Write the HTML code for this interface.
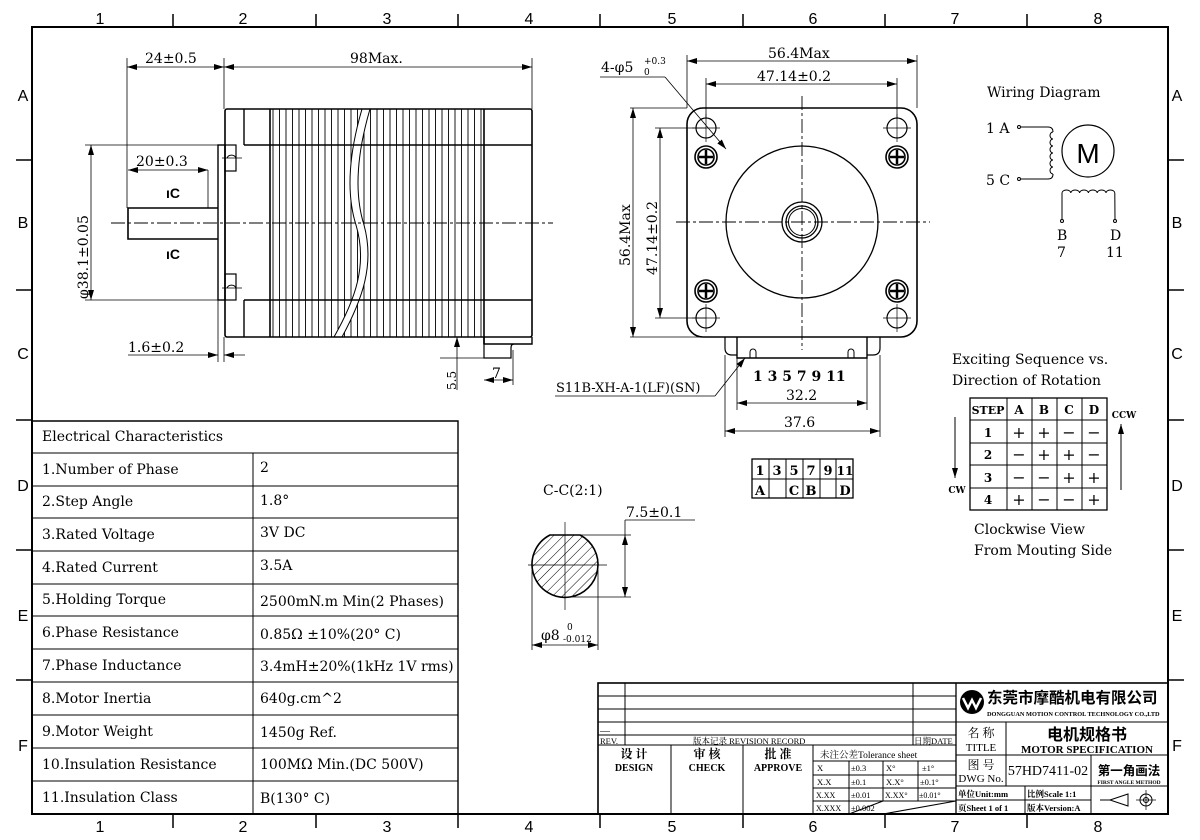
<!DOCTYPE html>
<html><head><meta charset="utf-8"><style>
html,body{margin:0;padding:0;background:#fff}
svg{display:block}
text{font-family:"DejaVu Serif","Noto Serif CJK SC",serif;fill:#000}
.s{font-family:"Liberation Sans",sans-serif}
.b{font-weight:bold}
.tb text{font-family:"Liberation Serif","Noto Serif CJK SC",serif}
</style></head><body>
<svg width="1200" height="840" viewBox="0 0 1200 840" xmlns="http://www.w3.org/2000/svg">
<defs>
<pattern id="stk" x="270" y="0" width="6.5" height="10" patternUnits="userSpaceOnUse"><line x1="3" y1="0" x2="3" y2="10" stroke="#000" stroke-width="0.9"/></pattern>
<pattern id="hat" width="7" height="7" patternUnits="userSpaceOnUse" patternTransform="rotate(45)"><line x1="0" y1="0" x2="0" y2="7" stroke="#000" stroke-width="1"/></pattern>
<marker id="ar" viewBox="0 0 10 6" refX="10" refY="3" markerWidth="10" markerHeight="6" orient="auto-start-reverse" markerUnits="userSpaceOnUse"><path d="M0,0 L10,3 L0,6z" fill="#000"/></marker>
</defs>
<rect width="1200" height="840" fill="#fff"/>
<rect x="32" y="27" width="1136" height="787" fill="none" stroke="#000" stroke-width="2"/>
<g stroke="#000" stroke-width="1.5">
<line x1="173" y1="14" x2="173" y2="27"/><line x1="316" y1="14" x2="316" y2="27"/><line x1="458" y1="14" x2="458" y2="27"/><line x1="600" y1="14" x2="600" y2="27"/><line x1="743" y1="14" x2="743" y2="27"/><line x1="885" y1="14" x2="885" y2="27"/><line x1="1027" y1="14" x2="1027" y2="27"/>
<line x1="173" y1="814" x2="173" y2="828"/><line x1="316" y1="814" x2="316" y2="828"/><line x1="458" y1="814" x2="458" y2="828"/><line x1="600" y1="814" x2="600" y2="828"/><line x1="743" y1="814" x2="743" y2="828"/><line x1="885" y1="814" x2="885" y2="828"/><line x1="1027" y1="814" x2="1027" y2="828"/>
<line x1="16" y1="160" x2="32" y2="160"/><line x1="16" y1="290" x2="32" y2="290"/><line x1="16" y1="420" x2="32" y2="420"/><line x1="16" y1="550" x2="32" y2="550"/><line x1="16" y1="680" x2="32" y2="680"/>
<line x1="1168" y1="160" x2="1184" y2="160"/><line x1="1168" y1="290" x2="1184" y2="290"/><line x1="1168" y1="420" x2="1184" y2="420"/><line x1="1168" y1="550" x2="1184" y2="550"/><line x1="1168" y1="680" x2="1184" y2="680"/>
</g>
<g font-size="16" text-anchor="middle">
<text class="s" x="100" y="24">1</text><text class="s" x="243" y="24">2</text><text class="s" x="387" y="24">3</text><text class="s" x="529" y="24">4</text><text class="s" x="672" y="24">5</text><text class="s" x="813" y="24">6</text><text class="s" x="955" y="24">7</text><text class="s" x="1098" y="24">8</text>
<text class="s" x="100" y="832">1</text><text class="s" x="243" y="832">2</text><text class="s" x="387" y="832">3</text><text class="s" x="529" y="832">4</text><text class="s" x="672" y="832">5</text><text class="s" x="813" y="832">6</text><text class="s" x="955" y="832">7</text><text class="s" x="1098" y="832">8</text>
<text class="s" x="23" y="101">A</text><text class="s" x="23" y="228">B</text><text class="s" x="23" y="359">C</text><text class="s" x="23" y="491">D</text><text class="s" x="23" y="621">E</text><text class="s" x="23" y="751">F</text>
<text class="s" x="1177" y="101">A</text><text class="s" x="1177" y="228">B</text><text class="s" x="1177" y="359">C</text><text class="s" x="1177" y="491">D</text><text class="s" x="1177" y="621">E</text><text class="s" x="1177" y="751">F</text>
</g>

<!-- SIDE VIEW -->
<g stroke="#000" fill="none">
<rect x="270" y="109" width="214" height="228" fill="url(#stk)" stroke="none"/>
<path d="M362,109 C350,150 345,190 356,225 C368,265 355,300 334,337 L342,337 C362,300 375,265 364,225 C353,190 358,150 370,109 Z" fill="#fff" stroke="#000" stroke-width="1"/>
<rect x="225" y="109" width="307" height="228" stroke-width="1.6" rx="2"/>
<line x1="244" y1="145" x2="532" y2="145" stroke-width="1.6"/>
<line x1="244" y1="300" x2="532" y2="300" stroke-width="1.6"/>
<line x1="244" y1="109" x2="244" y2="145" stroke-width="1.4"/>
<line x1="244" y1="300" x2="244" y2="337" stroke-width="1.4"/>
<line x1="270" y1="109" x2="270" y2="337" stroke-width="1.6"/>
<line x1="484" y1="109" x2="484" y2="344" stroke-width="1.6"/>
<path d="M484,337 L484,344 L532,344 L532,337" stroke-width="1.4"/>
<path d="M484,344 L484,358 L511,358 L511,348 Q511,344 514,344" stroke-width="1.2"/>
<rect x="218" y="145" width="7" height="155" stroke-width="1.4"/>
<rect x="225" y="145" width="11" height="26" stroke-width="1.2"/>
<rect x="225" y="274" width="11" height="26" stroke-width="1.2"/>
<path d="M227,158 a5,5 0 0 1 9,0" stroke-width="1"/><path d="M227,288 a5,5 0 0 1 9,0" stroke-width="1"/>
<line x1="222" y1="158" x2="242" y2="158" stroke-width="0.8"/><line x1="222" y1="288" x2="242" y2="288" stroke-width="0.8"/>
<path d="M218,208 L128,208 L128,239 L218,239" stroke-width="1.6"/>
<line x1="208" y1="170" x2="208" y2="208" stroke-width="0.8"/>
<line x1="111" y1="223" x2="553" y2="223" stroke-width="0.9" stroke-dasharray="14,3,3,3"/>
<line x1="127" y1="58" x2="127" y2="208" stroke-width="0.8"/>
<line x1="224" y1="58" x2="224" y2="109" stroke-width="0.8"/>
<line x1="532" y1="58" x2="532" y2="109" stroke-width="0.8"/>
<line x1="127" y1="67" x2="224" y2="67" stroke-width="0.8" marker-start="url(#ar)" marker-end="url(#ar)"/>
<line x1="224" y1="67" x2="532" y2="67" stroke-width="0.8" marker-start="url(#ar)" marker-end="url(#ar)"/>
<line x1="128" y1="170" x2="208" y2="170" stroke-width="0.8" marker-start="url(#ar)" marker-end="url(#ar)"/>
<line x1="85" y1="145" x2="218" y2="145" stroke-width="0.8"/>
<line x1="85" y1="300" x2="218" y2="300" stroke-width="0.8"/>
<line x1="91" y1="145" x2="91" y2="300" stroke-width="0.8" marker-start="url(#ar)" marker-end="url(#ar)"/>
<line x1="218" y1="300" x2="218" y2="362" stroke-width="0.8"/><line x1="224" y1="337" x2="224" y2="362" stroke-width="0.8"/>
<line x1="128" y1="355" x2="218" y2="355" stroke-width="0.8" marker-end="url(#ar)"/>
<line x1="245" y1="355" x2="224" y2="355" stroke-width="0.8" marker-end="url(#ar)"/>
<line x1="457" y1="337" x2="457" y2="390" stroke-width="0.8" marker-start="url(#ar)"/>
<line x1="440" y1="358" x2="484" y2="358" stroke-width="0.8"/>
<line x1="513" y1="350" x2="513" y2="385" stroke-width="0.8"/>
<line x1="484" y1="380" x2="513" y2="380" stroke-width="0.8" marker-start="url(#ar)" marker-end="url(#ar)"/>
</g>
<g font-size="14">
<text x="145" y="63">24±0.5</text>
<text x="350" y="63">98Max.</text>
<text x="136" y="166">20±0.3</text>
<text x="128" y="352">1.6±0.2</text>
<text x="166" y="198" class="b s" font-size="14">ıC</text>
<text x="166" y="259" class="b s" font-size="14">ıC</text>
<text transform="translate(88,299) rotate(-90)">φ38.1±0.05</text>
<text transform="translate(456,390) rotate(-90)" font-size="12">5.5</text>
<text x="492" y="378">7</text>
</g>

<!-- FRONT VIEW -->
<g stroke="#000" fill="none">
<rect x="687" y="108" width="230" height="229" rx="16" stroke-width="1.6"/>
<circle cx="802" cy="222" r="76" stroke-width="1.3"/>
<circle cx="802" cy="222" r="20" stroke-width="1.3"/>
<circle cx="802" cy="222" r="16" stroke-width="1.3"/>
<circle cx="802" cy="222" r="13.5" stroke-width="1"/>
<line x1="676" y1="222" x2="930" y2="222" stroke-width="0.9" stroke-dasharray="14,3,3,3"/>
<line x1="802" y1="96" x2="802" y2="350" stroke-width="0.9" stroke-dasharray="14,3,3,3"/>
<g stroke-width="1.2">
<circle cx="706" cy="128" r="10"/><circle cx="897" cy="128" r="10"/><circle cx="706" cy="318" r="10"/><circle cx="897" cy="318" r="10"/>
</g>
<g stroke-width="0.7">
<line x1="692" y1="128" x2="720" y2="128"/><line x1="706" y1="114" x2="706" y2="142"/>
<line x1="883" y1="128" x2="911" y2="128"/><line x1="897" y1="114" x2="897" y2="142"/>
<line x1="692" y1="318" x2="720" y2="318"/><line x1="706" y1="304" x2="706" y2="332"/>
<line x1="883" y1="318" x2="911" y2="318"/><line x1="897" y1="304" x2="897" y2="332"/>
</g>
<g stroke-width="1.6">
<circle cx="706" cy="157" r="11"/><circle cx="897" cy="157" r="11"/><circle cx="706" cy="291" r="11"/><circle cx="897" cy="291" r="11"/>
<circle cx="706" cy="157" r="8"/><circle cx="897" cy="157" r="8"/><circle cx="706" cy="291" r="8"/><circle cx="897" cy="291" r="8"/>
</g>
<g stroke-width="2.5">
<line x1="699" y1="157" x2="713" y2="157"/><line x1="706" y1="150" x2="706" y2="164"/>
<line x1="890" y1="157" x2="904" y2="157"/><line x1="897" y1="150" x2="897" y2="164"/>
<line x1="699" y1="291" x2="713" y2="291"/><line x1="706" y1="284" x2="706" y2="298"/>
<line x1="890" y1="291" x2="904" y2="291"/><line x1="897" y1="284" x2="897" y2="298"/>
</g>
<path d="M725,337 L725,348 Q725,355 732,355 L737,355" stroke-width="1.2"/>
<path d="M880,337 L880,348 Q880,355 873,355 L867,355" stroke-width="1.2"/>
<path d="M737,337 L737,358 L867,358 L867,337" stroke-width="1.4"/>
<path d="M750,358 L750,352 a3,3 0 0 1 6,0 L756,358" stroke-width="1"/>
<path d="M848,358 L848,352 a3,3 0 0 1 6,0 L854,358" stroke-width="1"/>
<line x1="687" y1="55" x2="687" y2="108" stroke-width="0.8"/><line x1="917" y1="55" x2="917" y2="108" stroke-width="0.8"/>
<line x1="687" y1="61" x2="917" y2="61" stroke-width="0.8" marker-start="url(#ar)" marker-end="url(#ar)"/>
<line x1="706" y1="78" x2="706" y2="118" stroke-width="0.8"/><line x1="897" y1="78" x2="897" y2="118" stroke-width="0.8"/>
<line x1="706" y1="84" x2="897" y2="84" stroke-width="0.8" marker-start="url(#ar)" marker-end="url(#ar)"/>
<line x1="630" y1="108" x2="687" y2="108" stroke-width="0.8"/><line x1="630" y1="337" x2="725" y2="337" stroke-width="0.8"/>
<line x1="633" y1="108" x2="633" y2="337" stroke-width="0.8" marker-start="url(#ar)" marker-end="url(#ar)"/>
<line x1="655" y1="128" x2="706" y2="128" stroke-width="0.8"/><line x1="655" y1="318" x2="706" y2="318" stroke-width="0.8"/>
<line x1="660" y1="128" x2="660" y2="318" stroke-width="0.8" marker-start="url(#ar)" marker-end="url(#ar)"/>
<line x1="600" y1="77" x2="665" y2="77" stroke-width="0.8"/>
<line x1="665" y1="77" x2="726" y2="149" stroke-width="0.8" marker-end="url(#ar)"/>
<line x1="737" y1="358" x2="737" y2="410" stroke-width="0.8"/><line x1="867" y1="358" x2="867" y2="410" stroke-width="0.8"/>
<line x1="737" y1="403" x2="867" y2="403" stroke-width="0.8" marker-start="url(#ar)" marker-end="url(#ar)"/>
<line x1="725" y1="355" x2="725" y2="437" stroke-width="0.8"/><line x1="880" y1="355" x2="880" y2="437" stroke-width="0.8"/>
<line x1="725" y1="431" x2="880" y2="431" stroke-width="0.8" marker-start="url(#ar)" marker-end="url(#ar)"/>
<line x1="555" y1="396" x2="715" y2="396" stroke-width="0.8"/>
<line x1="715" y1="396" x2="745" y2="358" stroke-width="0.8" marker-end="url(#ar)"/>
</g>
<g font-size="14">
<text x="768" y="58">56.4Max</text>
<text x="757" y="81">47.14±0.2</text>
<text x="601" y="72">4-φ5</text><text x="644" y="64" font-size="9">+0.3</text><text x="644" y="75" font-size="9">0</text>
<text transform="translate(630,266) rotate(-90)">56.4Max</text>
<text transform="translate(657,275) rotate(-90)">47.14±0.2</text>
<text x="753" y="381" class="b" font-size="14">1 3 5 7 9 11</text>
<text x="786" y="400">32.2</text>
<text x="784" y="427">37.6</text>
<text x="556" y="392" font-size="13">S11B-XH-A-1(LF)(SN)</text>
</g>

<!-- WIRING -->
<g font-size="14">
<text x="987" y="97">Wiring Diagram</text>
<text x="986" y="133">1 A</text><text x="986" y="185">5 C</text>
<text x="1057" y="240">B</text><text x="1057" y="257">7</text>
<text x="1110" y="240">D</text><text x="1106" y="257">11</text>
</g>
<g stroke="#000" fill="none" stroke-width="1">
<circle cx="1019" cy="127" r="1.5"/><circle cx="1019" cy="179" r="1.5"/>
<path d="M1021,127 L1048,127 Q1053,127 1053,132"/>
<path d="M1021,179 L1048,179 Q1053,179 1053,174"/>
<path d="M1053,132 a3,3.5 0 0 0 0,7 a3,3.5 0 0 0 0,7 a3,3.5 0 0 0 0,7 a3,3.5 0 0 0 0,7 a3,3.5 0 0 0 0,7 a3,3.5 0 0 0 0,7"/>
<circle cx="1088" cy="151" r="26" stroke-width="1.2"/>
<path d="M1062,220 L1062,193 a4.4,3 0 0 1 8.8,0 a4.4,3 0 0 1 8.8,0 a4.4,3 0 0 1 8.8,0 a4.4,3 0 0 1 8.8,0 a4.4,3 0 0 1 8.8,0 a4.4,3 0 0 1 8.8,0 L1115,220"/>
<circle cx="1062" cy="221" r="1.5"/><circle cx="1115" cy="221" r="1.5"/>
</g>
<text x="1088" y="163" class="s" font-size="28" text-anchor="middle">M</text>

<!-- SEQUENCE TABLE -->
<g font-size="14">
<text x="952" y="364">Exciting Sequence vs.</text>
<text x="952" y="385">Direction of Rotation</text>
<text x="974" y="534">Clockwise View</text>
<text x="974" y="555">From Mouting Side</text>
</g>
<g stroke="#000" fill="none" stroke-width="1">
<rect x="970" y="398" width="137" height="112" stroke-width="1.3"/>
<line x1="970" y1="420" x2="1107" y2="420"/><line x1="970" y1="443" x2="1107" y2="443"/><line x1="970" y1="465" x2="1107" y2="465"/><line x1="970" y1="488" x2="1107" y2="488"/>
<line x1="1007" y1="398" x2="1007" y2="510"/><line x1="1032" y1="398" x2="1032" y2="510"/><line x1="1057" y1="398" x2="1057" y2="510"/><line x1="1082" y1="398" x2="1082" y2="510"/>
<line x1="955" y1="417" x2="955" y2="478" marker-end="url(#ar)"/>
<line x1="1121" y1="490" x2="1121" y2="424" marker-end="url(#ar)"/>
</g>
<g font-size="12" class="b" text-anchor="middle">
<text x="988" y="414" font-size="11">STEP</text><text x="1019" y="414">A</text><text x="1044" y="414">B</text><text x="1069" y="414">C</text><text x="1094" y="414">D</text>
<text x="988" y="437">1</text><text x="988" y="459">2</text><text x="988" y="482">3</text><text x="988" y="504">4</text>
<text x="957" y="493" font-size="9">CW</text><text x="1124" y="418" font-size="9">CCW</text>
</g>
<g font-size="16" text-anchor="middle">
<text x="1019" y="438">+</text><text x="1044" y="438">+</text><text x="1069" y="438">−</text><text x="1094" y="438">−</text>
<text x="1019" y="460">−</text><text x="1044" y="460">+</text><text x="1069" y="460">+</text><text x="1094" y="460">−</text>
<text x="1019" y="483">−</text><text x="1044" y="483">−</text><text x="1069" y="483">+</text><text x="1094" y="483">+</text>
<text x="1019" y="505">+</text><text x="1044" y="505">−</text><text x="1069" y="505">−</text><text x="1094" y="505">+</text>
</g>

<!-- PIN TABLE -->
<g stroke="#000" fill="none" stroke-width="1">
<rect x="752" y="459" width="101" height="39" stroke-width="1.3"/>
<line x1="752" y1="479" x2="853" y2="479"/>
<line x1="769" y1="459" x2="769" y2="498"/><line x1="786" y1="459" x2="786" y2="498"/><line x1="803" y1="459" x2="803" y2="498"/><line x1="820" y1="459" x2="820" y2="498"/><line x1="836" y1="459" x2="836" y2="498"/>
</g>
<g font-size="13" class="b" text-anchor="middle">
<text x="760" y="475">1</text><text x="777" y="475">3</text><text x="794" y="475">5</text><text x="811" y="475">7</text><text x="828" y="475">9</text><text x="845" y="475" font-size="12">11</text>
<text x="760" y="495">A</text><text x="794" y="495">C</text><text x="811" y="495">B</text><text x="845" y="495">D</text>
</g>

<!-- SECTION C-C -->
<text x="543" y="495" font-size="14">C-C(2:1)</text>
<g stroke="#000" fill="none">
<path d="M550,535 L580,535 A33,33 0 0 1 570,597 A33,33 0 0 1 550,535 Z" fill="url(#hat)" stroke-width="1.6"/>
<line x1="565" y1="522" x2="565" y2="610" stroke-width="0.7"/>
<line x1="528" y1="565" x2="607" y2="565" stroke-width="0.7"/>
<line x1="580" y1="535" x2="631" y2="535" stroke-width="0.8"/><line x1="570" y1="597" x2="631" y2="597" stroke-width="0.8"/>
<line x1="625" y1="520" x2="625" y2="535" stroke-width="0.8"/>
<line x1="625" y1="535" x2="625" y2="597" stroke-width="0.8" marker-start="url(#ar)" marker-end="url(#ar)"/>
<line x1="625" y1="520" x2="695" y2="520" stroke-width="0.8"/>
<line x1="532" y1="570" x2="532" y2="650" stroke-width="0.8"/><line x1="598" y1="570" x2="598" y2="650" stroke-width="0.8"/>
<line x1="532" y1="645" x2="598" y2="645" stroke-width="0.8" marker-start="url(#ar)" marker-end="url(#ar)"/>
</g>
<text x="626" y="517" font-size="14">7.5±0.1</text>
<text x="541" y="640" font-size="14">φ8</text><text x="567" y="630" font-size="9">0</text><text x="563" y="642" font-size="9">-0.012</text>

<!-- ELECTRICAL TABLE -->
<g stroke="#000" fill="none" stroke-width="1">
<path d="M32,421 L458,421 L458,814" stroke-width="1.4"/>
<line x1="32" y1="453" x2="458" y2="453"/><line x1="32" y1="486" x2="458" y2="486"/><line x1="32" y1="518" x2="458" y2="518"/><line x1="32" y1="551" x2="458" y2="551"/><line x1="32" y1="584" x2="458" y2="584"/><line x1="32" y1="616" x2="458" y2="616"/><line x1="32" y1="649" x2="458" y2="649"/><line x1="32" y1="682" x2="458" y2="682"/><line x1="32" y1="715" x2="458" y2="715"/><line x1="32" y1="748" x2="458" y2="748"/><line x1="32" y1="781" x2="458" y2="781"/>
<line x1="253" y1="453" x2="253" y2="814"/>
</g>
<g font-size="14">
<text x="42" y="441">Electrical Characteristics</text>
<text x="42" y="474">1.Number of Phase</text><text x="260" y="472">2</text>
<text x="42" y="506">2.Step Angle</text><text x="260" y="505">1.8°</text>
<text x="42" y="539">3.Rated Voltage</text><text x="260" y="537">3V DC</text>
<text x="42" y="572">4.Rated Current</text><text x="260" y="570">3.5A</text>
<text x="42" y="604">5.Holding Torque</text><text x="260" y="606">2500mN.m Min(2 Phases)</text>
<text x="42" y="637">6.Phase Resistance</text><text x="260" y="639">0.85Ω ±10%(20° C)</text>
<text x="42" y="670">7.Phase Inductance</text><text x="260" y="671">3.4mH±20%(1kHz 1V rms)</text>
<text x="42" y="703">8.Motor Inertia</text><text x="260" y="703">640g.cm^2</text>
<text x="42" y="736">9.Motor Weight</text><text x="260" y="737">1450g Ref.</text>
<text x="42" y="769">10.Insulation Resistance</text><text x="260" y="769">100MΩ Min.(DC 500V)</text>
<text x="42" y="802">11.Insulation Class</text><text x="260" y="803">B(130° C)</text>
</g>

<!-- TITLE BLOCK -->
<g class="tb">
<g stroke="#000" fill="none" stroke-width="1">
<rect x="598" y="683" width="570" height="131" stroke-width="1.6"/>
<line x1="598" y1="696" x2="956" y2="696"/><line x1="598" y1="709" x2="956" y2="709"/><line x1="598" y1="722" x2="1168" y2="722"/><line x1="598" y1="735" x2="956" y2="735"/><line x1="598" y1="745" x2="956" y2="745"/>
<line x1="625" y1="683" x2="625" y2="745"/><line x1="913" y1="683" x2="913" y2="745"/>
<line x1="671" y1="745" x2="671" y2="814"/><line x1="743" y1="745" x2="743" y2="814"/><line x1="813" y1="745" x2="813" y2="814"/>
<line x1="813" y1="761" x2="956" y2="761"/><line x1="813" y1="775" x2="956" y2="775"/><line x1="813" y1="788" x2="956" y2="788"/><line x1="813" y1="801" x2="956" y2="801"/>
<line x1="849" y1="761" x2="849" y2="814"/><line x1="883" y1="761" x2="883" y2="801"/><line x1="918" y1="761" x2="918" y2="801"/>
<line x1="883" y1="814" x2="956" y2="801"/><line x1="849" y1="814" x2="883" y2="801"/>
<line x1="956" y1="683" x2="956" y2="814" stroke-width="1.3"/>
<line x1="1006" y1="722" x2="1006" y2="786"/>
<line x1="956" y1="755" x2="1168" y2="755"/><line x1="956" y1="786" x2="1168" y2="786"/><line x1="956" y1="800" x2="1091" y2="800"/>
<line x1="1091" y1="755" x2="1091" y2="814"/><line x1="1025" y1="786" x2="1025" y2="814"/>
<path d="M1110,800 L1128,794 L1128,806 Z M1100,800 L1110,800"/>
<circle cx="1146" cy="800" r="6"/><circle cx="1146" cy="800" r="2.5"/>
<line x1="1136" y1="800" x2="1156" y2="800" stroke-width="0.7"/><line x1="1146" y1="790" x2="1146" y2="810" stroke-width="0.7"/>
</g>
<g>
<circle cx="972" cy="702" r="12" fill="#000"/>
<path d="M963,698 L968,708 L972,700 L976,708 L981,698" stroke="#fff" stroke-width="2.5" fill="none"/>
</g>
<g class="b">
<text x="987" y="703" font-size="15.5" style="font-family:'Noto Sans CJK SC',sans-serif" font-weight="bold">东莞市摩酷机电有限公司</text>
<text x="987" y="716" font-size="6.3">DONGGUAN MOTION CONTROL TECHNOLOGY CO.,LTD</text>
<text x="1087" y="740" font-size="16" text-anchor="middle" style="font-family:'Noto Sans CJK SC',sans-serif" font-weight="bold">电机规格书</text>
<text x="1087" y="753" font-size="11" text-anchor="middle">MOTOR SPECIFICATION</text>
<text x="1129" y="775" font-size="12.5" text-anchor="middle" style="font-family:'Noto Sans CJK SC',sans-serif">第一角画法</text>
<text x="1129" y="784" font-size="5.5" text-anchor="middle">FIRST ANGLE METHOD</text>
</g>
<g font-size="10">
<text x="600" y="734">—</text>
<text x="600" y="744" font-size="8.5">REV.</text>
<text x="693" y="744" font-size="8.5">版本记录 REVISION RECORD</text>
<text x="914" y="744" font-size="8.5">日期DATE</text>
<text x="634" y="758" text-anchor="middle" class="b" font-size="12">设 计</text><text x="634" y="771" text-anchor="middle" class="b" font-size="10">DESIGN</text>
<text x="707" y="758" text-anchor="middle" class="b" font-size="12">审 核</text><text x="707" y="771" text-anchor="middle" class="b" font-size="10">CHECK</text>
<text x="778" y="758" text-anchor="middle" class="b" font-size="12">批 准</text><text x="778" y="771" text-anchor="middle" class="b" font-size="10">APPROVE</text>
<text x="820" y="758" font-size="9.5">未注公差Tolerance sheet</text>
<text x="817" y="771" font-size="8.5">X</text><text x="851" y="771" font-size="8.5">±0.3</text><text x="886" y="771" font-size="8.5">X°</text><text x="922" y="771" font-size="8.5">±1°</text>
<text x="817" y="785" font-size="8.5">X.X</text><text x="851" y="785" font-size="8.5">±0.1</text><text x="886" y="785" font-size="8.5">X.X°</text><text x="920" y="785" font-size="8.5">±0.1°</text>
<text x="816" y="798" font-size="8">X.XX</text><text x="851" y="798" font-size="8.5">±0.01</text><text x="885" y="798" font-size="8">X.XX°</text><text x="919" y="798" font-size="8">±0.01°</text>
<text x="816" y="811" font-size="8">X.XXX</text><text x="851" y="811" font-size="8.5">±0.002</text>
<text x="981" y="737" text-anchor="middle" font-size="12">名 称</text><text x="981" y="751" text-anchor="middle" font-size="11">TITLE</text>
<text x="981" y="769" text-anchor="middle" font-size="12">图 号</text><text x="981" y="782" text-anchor="middle" font-size="11">DWG No.</text>
<text x="1048" y="775" text-anchor="middle" font-size="14">57HD7411-02</text>
<text x="958" y="797" font-size="8.5" class="b">单位Unit:mm</text>
<text x="1027" y="797" font-size="8.5" class="b">比例Scale 1:1</text>
<text x="958" y="811" font-size="8.5" class="b">页Sheet 1 of 1</text>
<text x="1027" y="811" font-size="8.5" class="b">版本Version:A</text>
</g>
</g>
</svg>
</body></html>
